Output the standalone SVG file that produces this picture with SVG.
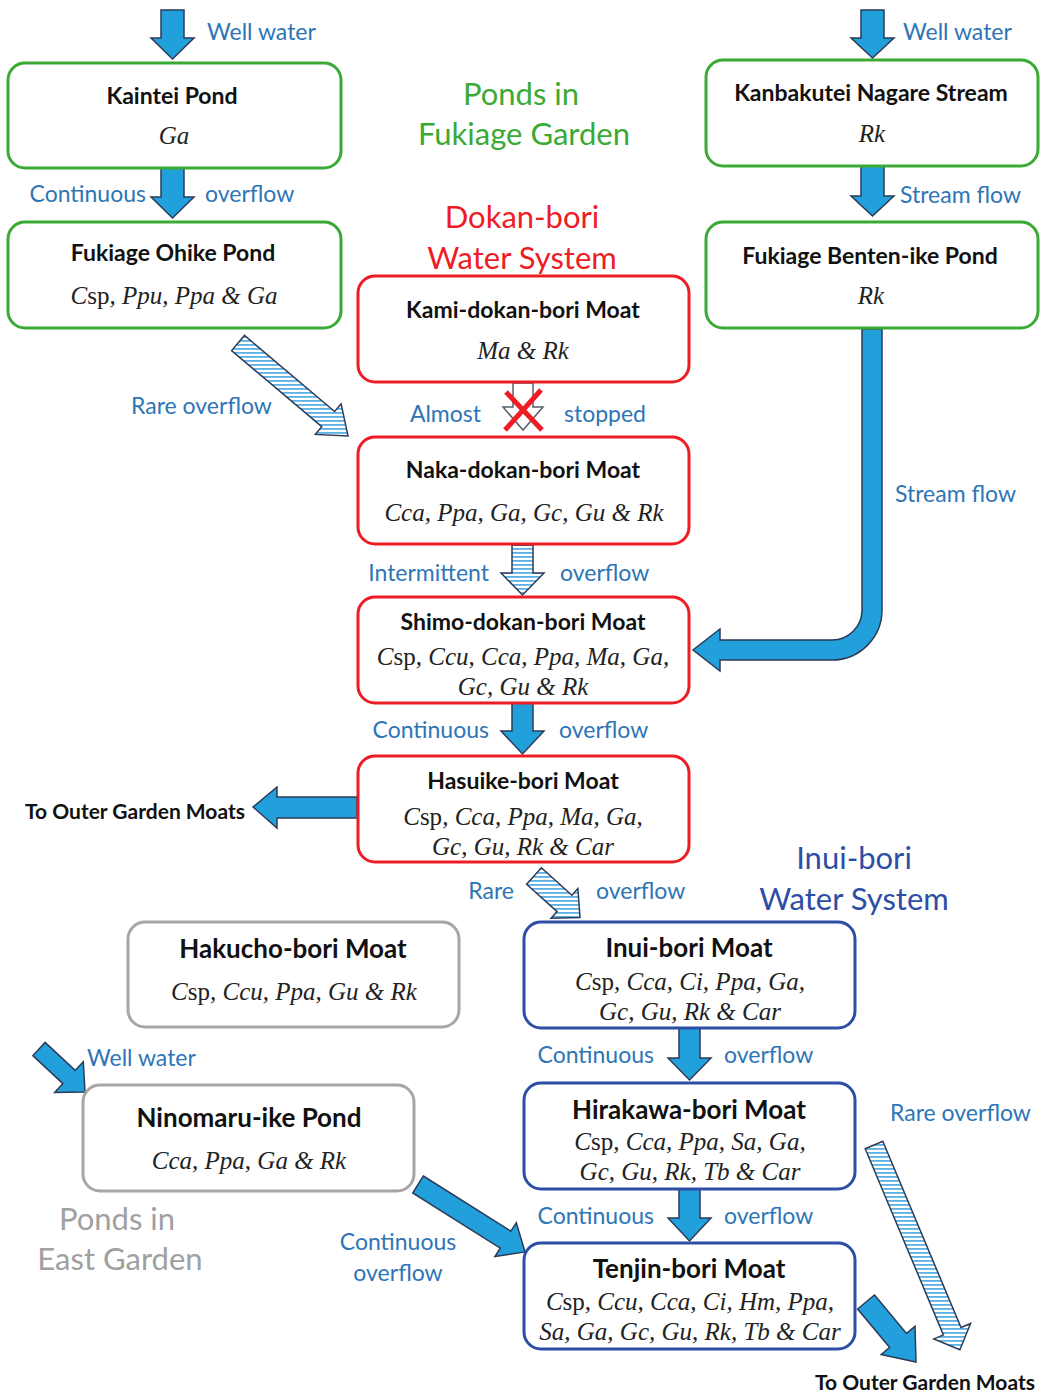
<svg xmlns="http://www.w3.org/2000/svg" width="1043" height="1393" viewBox="0 0 1043 1393">
<defs>
<pattern id="hatch" patternUnits="userSpaceOnUse" width="6" height="4">
<rect width="6" height="4" fill="#ffffff"/>
<rect y="0" width="6" height="1.8" fill="#5cb0e4"/>
</pattern>
<style>
.box{fill:#fff;stroke-width:3}
.g{stroke:#3aaa35}.r{stroke:#ee1c25}.b{stroke:#2e4ea6}.gy{stroke:#a6a6a6}
.t{font-family:Lato,"Open Sans","Liberation Sans",sans-serif;font-weight:bold;fill:#111;text-anchor:middle;dominant-baseline:central}
.t1{font-size:23px}.t2{font-size:26px}
.sp{font-family:"Liberation Serif","Times New Roman",serif;font-style:italic;font-size:25px;fill:#222;text-anchor:middle;dominant-baseline:central}
.up{font-style:normal}
.lb{font-family:Lato,"Open Sans","Liberation Sans",sans-serif;font-size:23px;fill:#2e75b6;dominant-baseline:central}
.hd{font-family:Lato,"Open Sans","Liberation Sans",sans-serif;font-size:31px;text-anchor:middle;dominant-baseline:central}
.ot{font-family:Lato,"Open Sans","Liberation Sans",sans-serif;font-weight:bold;font-size:21px;fill:#111;dominant-baseline:central}
.ar{fill:#22a0dc;stroke:#2c3b58;stroke-width:1.5;stroke-linejoin:miter}
.ha{fill:url(#hatch);stroke:#2c3b58;stroke-width:1.5}
</style>
</defs>

<!-- headers -->
<g id="header-fukiage">
<text class="hd" x="521" y="93" fill="#3aaa35">Ponds in</text>
<text class="hd" x="524" y="133" fill="#3aaa35">Fukiage Garden</text>
</g>
<g id="header-dokan">
<text class="hd" x="522" y="216" fill="#ee1c25">Dokan-bori</text>
<text class="hd" x="522" y="257" fill="#ee1c25">Water System</text>
</g>
<g id="header-inui">
<text class="hd" x="854" y="857" fill="#2e4ea6">Inui-bori</text>
<text class="hd" x="854" y="898" fill="#2e4ea6">Water System</text>
</g>
<g id="header-east">
<text class="hd" x="117" y="1218" fill="#a0a0a0">Ponds in</text>
<text class="hd" x="120" y="1258" fill="#a0a0a0">East Garden</text>
</g>

<!-- connectors -->
<g id="connectors">
<path class="ar" d="M161 10 L184 10 L184 38 L194 38 L172.5 59 L151 38 L161 38 Z"/>
<path class="ar" d="M161 168 L184 168 L184 197 L194 197 L172.5 218 L151 197 L161 197 Z"/>
<path class="ar" d="M861 10 L884 10 L884 38 L894 38 L872.5 58 L851 38 L861 38 Z"/>
<path class="ar" d="M861 166 L884 166 L884 196 L894 196 L872.5 216 L851 196 L861 196 Z"/>
<path class="ar" d="M862 329 L862 610 A30 30 0 0 1 832 640 L720 640 L720 629 L693 650 L720 671 L720 660 L832 660 A50 50 0 0 0 882 610 L882 329 Z"/>
<path class="ha" d="M244.5 335.4 L334.6 411.5 L341.1 403.8 L348 435.9 L315.3 434.4 L321.8 426.7 L231.6 350.6 Z"/>
<path d="M513 383 L533 383 L533 407 L543 407 L523 430 L503 407 L513 407 Z" fill="#fff" stroke="#5a5f6a" stroke-width="1.5"/>
<path d="M506 392 L542 430 M541 390 L505 430" stroke="#ee1c25" stroke-width="5" fill="none"/>
<path class="ha" d="M512 545 L533 545 L533 573 L544 573 L522.5 595 L501 573 L512 573 Z"/>
<path class="ar" d="M512 703 L533 703 L533 731 L544 731 L522.5 754 L501 731 L512 731 Z"/>
<path class="ar" d="M357 797 L277 797 L277 787 L253 807 L277 828 L277 818 L357 818 Z"/>
<path class="ha" d="M541.4 867.8 L571.9 895.2 L577.9 888.5 L580 917.5 L551.1 918.3 L557.1 911.6 L526.6 884.2 Z"/>
<path class="ar" d="M679 1028 L700 1028 L700 1058 L711 1058 L689.5 1080 L668 1058 L679 1058 Z"/>
<path class="ar" d="M679 1189 L700 1189 L700 1218 L711 1218 L689.5 1241 L668 1218 L679 1218 Z"/>
<path class="ha" d="M882.8 1141.3 L961 1327.5 L970.6 1323.5 L959.9 1349.7 L933.8 1338.9 L943.4 1334.9 L865.2 1148.7 Z"/>
<path class="ar" d="M874.5 1295 L906.5 1333.4 L915 1326.3 L916 1362 L881.2 1354.5 L889.7 1347.4 L857.6 1309 Z"/>
<path class="ar" d="M423.3 1176 L510.9 1231.2 L516.3 1222.8 L525 1252 L494.9 1256.6 L500.3 1248.2 L412.7 1193 Z"/>
<path class="ar" d="M45.1 1042.4 L75.1 1070.4 L83.3 1061.7 L85 1092 L54.7 1092.4 L62.9 1083.6 L32.9 1055.6 Z"/>
</g>

<!-- connector labels -->
<g id="labels">
<text class="lb" x="207" y="31">Well water</text>
<text class="lb" x="903" y="31">Well water</text>
<text class="lb" x="146" y="193" text-anchor="end">Continuous</text>
<text class="lb" x="205" y="193">overflow</text>
<text class="lb" x="900" y="194">Stream flow</text>
<text class="lb" x="131" y="405">Rare overflow</text>
<text class="lb" x="481" y="413" text-anchor="end">Almost</text>
<text class="lb" x="564" y="413">stopped</text>
<text class="lb" x="895" y="493">Stream flow</text>
<text class="lb" x="489" y="572" text-anchor="end">Intermittent</text>
<text class="lb" x="560" y="572">overflow</text>
<text class="lb" x="489" y="729" text-anchor="end">Continuous</text>
<text class="lb" x="559" y="729">overflow</text>
<text class="lb" x="514" y="890" text-anchor="end">Rare</text>
<text class="lb" x="596" y="890">overflow</text>
<text class="lb" x="654" y="1054" text-anchor="end">Continuous</text>
<text class="lb" x="724" y="1054">overflow</text>
<text class="lb" x="890" y="1112">Rare overflow</text>
<text class="lb" x="87" y="1057">Well water</text>
<text class="lb" x="654" y="1215" text-anchor="end">Continuous</text>
<text class="lb" x="724" y="1215">overflow</text>
<text class="lb" x="398" y="1241" text-anchor="middle">Continuous</text>
<text class="lb" x="398" y="1272" text-anchor="middle">overflow</text>
<text class="ot" x="25" y="810">To Outer Garden Moats</text>
<text class="ot" x="815" y="1381">To Outer Garden Moats</text>
</g>

<!-- nodes -->
<g id="kaintei">
<rect class="box g" x="8" y="63" width="333" height="105" rx="17"/>
<text class="t t1" x="172" y="95">Kaintei Pond</text>
<text class="sp" x="174" y="135">Ga</text>
</g>
<g id="fukiage-ohike">
<rect class="box g" x="8" y="222" width="333" height="106" rx="17"/>
<text class="t t1" x="173" y="252">Fukiage Ohike Pond</text>
<text class="sp" x="174" y="295">C<tspan class="up">sp</tspan>, Ppu, Ppa &amp; Ga</text>
</g>
<g id="kanbakutei">
<rect class="box g" x="706" y="60" width="332" height="106" rx="17"/>
<text class="t t1" x="871" y="92">Kanbakutei Nagare Stream</text>
<text class="sp" x="872" y="133">Rk</text>
</g>
<g id="benten">
<rect class="box g" x="706" y="222" width="332" height="106" rx="17"/>
<text class="t t1" x="870" y="255">Fukiage Benten-ike Pond</text>
<text class="sp" x="871" y="295">Rk</text>
</g>
<g id="kami-dokan">
<rect class="box r" x="358" y="276" width="331" height="106" rx="17"/>
<text class="t t1" x="523" y="309">Kami-dokan-bori Moat</text>
<text class="sp" x="523" y="350">Ma &amp; Rk</text>
</g>
<g id="naka-dokan">
<rect class="box r" x="358" y="437" width="331" height="107" rx="17"/>
<text class="t t1" x="523" y="469">Naka-dokan-bori Moat</text>
<text class="sp" x="524" y="512">Cca, Ppa, Ga, Gc, Gu &amp; Rk</text>
</g>
<g id="shimo-dokan">
<rect class="box r" x="358" y="597" width="331" height="106" rx="17"/>
<text class="t t1" x="523" y="621">Shimo-dokan-bori Moat</text>
<text class="sp" x="523" y="656">C<tspan class="up">sp</tspan>, Ccu, Cca, Ppa, Ma, Ga,</text>
<text class="sp" x="523" y="686">Gc, Gu &amp; Rk</text>
</g>
<g id="hasuike">
<rect class="box r" x="358" y="756" width="331" height="106" rx="17"/>
<text class="t t1" x="523" y="780">Hasuike-bori Moat</text>
<text class="sp" x="523" y="816">C<tspan class="up">sp</tspan>, Cca, Ppa, Ma, Ga,</text>
<text class="sp" x="523" y="846">Gc, Gu, Rk &amp; Car</text>
</g>
<g id="hakucho">
<rect class="box gy" x="128" y="922" width="331" height="105" rx="17"/>
<text class="t t2" x="293" y="948">Hakucho-bori Moat</text>
<text class="sp" x="294" y="991">C<tspan class="up">sp</tspan>, Ccu, Ppa, Gu &amp; Rk</text>
</g>
<g id="inui">
<rect class="box b" x="524" y="922" width="331" height="106" rx="17"/>
<text class="t t2" x="689" y="947">Inui-bori Moat</text>
<text class="sp" x="690" y="981">C<tspan class="up">sp</tspan>, Cca, Ci, Ppa, Ga,</text>
<text class="sp" x="690" y="1011">Gc, Gu, Rk &amp; Car</text>
</g>
<g id="ninomaru">
<rect class="box gy" x="83" y="1085" width="331" height="106" rx="17"/>
<text class="t t2" x="249" y="1117">Ninomaru-ike Pond</text>
<text class="sp" x="249" y="1160">Cca, Ppa, Ga &amp; Rk</text>
</g>
<g id="hirakawa">
<rect class="box b" x="524" y="1083" width="331" height="106" rx="17"/>
<text class="t t2" x="689" y="1109">Hirakawa-bori Moat</text>
<text class="sp" x="690" y="1141">C<tspan class="up">sp</tspan>, Cca, Ppa, Sa, Ga,</text>
<text class="sp" x="690" y="1171">Gc, Gu, Rk, Tb &amp; Car</text>
</g>
<g id="tenjin">
<rect class="box b" x="524" y="1243" width="331" height="106" rx="17"/>
<text class="t t2" x="689" y="1268">Tenjin-bori Moat</text>
<text class="sp" x="690" y="1301">C<tspan class="up">sp</tspan>, Ccu, Cca, Ci, Hm, Ppa,</text>
<text class="sp" x="690" y="1331">Sa, Ga, Gc, Gu, Rk, Tb &amp; Car</text>
</g>
</svg>
